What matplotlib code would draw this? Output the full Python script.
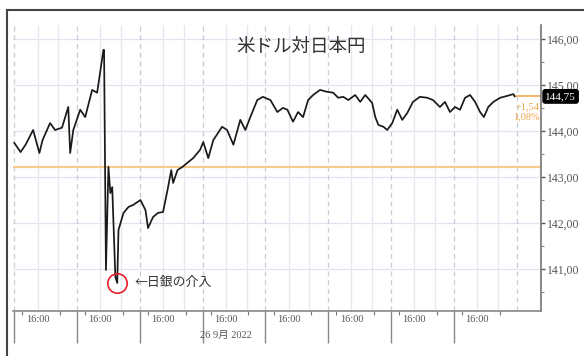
import matplotlib
matplotlib.use("Agg")
import matplotlib.pyplot as plt
from matplotlib.lines import Line2D
from matplotlib.ticker import FixedLocator, NullFormatter
import matplotlib.transforms as mtransforms

plt.rcParams['font.family'] = ['Noto Sans CJK JP', 'DejaVu Sans']

# trading-day offsets (day 0 = first session shown) and USD/JPY level
days = [0.00, 0.10, 0.18, 0.30, 0.40, 0.45, 0.57, 0.65, 0.76, 0.86, 0.89, 0.94,
        1.05, 1.13, 1.24, 1.32, 1.35, 1.42, 1.43, 1.46, 1.50, 1.53, 1.56, 1.61,
        1.64, 1.66, 1.74, 1.82, 1.89, 2.01, 2.09, 2.13, 2.21, 2.29, 2.37, 2.45,
        2.50, 2.53, 2.60, 2.68, 2.75, 2.85, 2.96, 3.01, 3.09, 3.17, 3.31, 3.39,
        3.49, 3.60, 3.68, 3.76, 3.87, 3.96, 4.08, 4.19, 4.28, 4.35, 4.44, 4.52,
        4.60, 4.68, 4.76, 4.87, 4.98, 5.08, 5.16, 5.24, 5.32, 5.43, 5.51, 5.59,
        5.70, 5.75, 5.80, 5.88, 5.94, 6.02, 6.10, 6.18, 6.26, 6.35, 6.46, 6.58,
        6.67, 6.78, 6.86, 6.94, 7.02, 7.10, 7.18, 7.26, 7.34, 7.42, 7.48, 7.55,
        7.63, 7.74, 7.85, 7.95, 7.97]
usdjpy = [143.74, 143.54, 143.70, 144.02, 143.52, 143.80, 144.17, 144.02, 144.07, 144.52, 143.52, 144.02,
          144.46, 144.30, 144.89, 144.83, 145.11, 145.76, 145.76, 140.98, 143.22, 142.65, 142.78, 140.83,
          140.70, 141.85, 142.22, 142.35, 142.39, 142.50, 142.28, 141.89, 142.13, 142.22, 142.24, 142.78,
          143.15, 142.87, 143.15, 143.22, 143.30, 143.41, 143.59, 143.76, 143.41, 143.80, 144.09, 144.02,
          143.70, 144.24, 144.02, 144.30, 144.67, 144.74, 144.67, 144.41, 144.50, 144.46, 144.20, 144.41,
          144.30, 144.67, 144.78, 144.89, 144.85, 144.83, 144.72, 144.74, 144.67, 144.78, 144.63, 144.78,
          144.61, 144.30, 144.13, 144.09, 144.02, 144.17, 144.46, 144.24, 144.39, 144.63, 144.74, 144.72,
          144.67, 144.52, 144.63, 144.41, 144.52, 144.46, 144.72, 144.78, 144.63, 144.41, 144.30, 144.52,
          144.63, 144.72, 144.76, 144.80, 144.75]

ref_level = 143.22          # orange reference line
last_price = "144,75"
change_abs = "+1,54"
change_pct = "1,08%"
y_ticks = [141, 142, 143, 144, 145, 146]
n_days = 8
label_offset = 0.37         # position of the "16:00" label inside each session
intervention = (1.64, 140.70)

serif = ['Liberation Serif', 'DejaVu Serif']

fig = plt.figure(figsize=(5.84, 3.56), dpi=100)
ax = fig.add_axes([0.0223, 0.1264, 0.9041, 0.8034])
ax.set_xlim(-0.02, 8.39)
ax.set_ylim(140.09, 146.30)

# grid
for y in y_ticks:
    ax.axhline(y, color='#dfe4ee', lw=0.9, zorder=0)
for k in range(n_days + 1):
    ax.axvline(k, color='#c9ccd6', lw=0.9, ls=(0, (4, 3)), zorder=0)
    for off in (label_offset, 0.70):
        if k + off < 8.39:
            ax.axvline(k + off, color='#e3e7ef', lw=0.9, zorder=0)

ax.axhline(ref_level, color='#f8c98c', lw=1.6, zorder=1)
ax.plot(days, usdjpy, color='#1a1a1a', lw=1.25, zorder=3)
ax.plot([days[-1], 8.39], [144.75, 144.75], color='#f2b060', lw=1.3, zorder=2)

# red circle and note
ax.plot([intervention[0]], [intervention[1]], 'o', ms=14, mfc='none', mec='#e8202a', mew=1.2,
        zorder=4, clip_on=False)
ax.text(1.92, intervention[1], '←日銀の介入', fontsize=9.3, color='#333333', va='center', ha='left')

ax.text(4.57, 145.83, '米ドル対日本円', fontsize=13.3, color='#333333', ha='center', va='center')

# spines
for s in ('top', 'left'):
    ax.spines[s].set_visible(False)
ax.spines['right'].set_color('#777777')
ax.spines['bottom'].set_color('#888888')
ax.spines['right'].set_linewidth(1.2)
ax.spines['bottom'].set_linewidth(1.2)

# y axis on right
ax.yaxis.tick_right()
ax.set_yticks(y_ticks)
ax.set_yticklabels([f"{v:.2f}".replace('.', ',') for v in y_ticks], family=serif)
ax.yaxis.set_minor_locator(FixedLocator([v + 0.5 for v in range(140, 146)]))
ax.tick_params(axis='y', which='major', length=3, width=1, color='#555555', pad=1,
               labelsize=8.5, labelcolor='#555555')
ax.tick_params(axis='y', which='minor', length=2, width=0.8, color='#888888')

# x axis: long session separators, 16:00 labels
ax.set_xticks(range(n_days))
ax.xaxis.set_major_formatter(NullFormatter())
ax.tick_params(axis='x', which='major', length=23, width=1.0, color='#888888')
ax.set_xticks([k + label_offset for k in range(n_days)], minor=True)
ax.set_xticklabels(['16:00'] * n_days, minor=True, family=serif)
ax.tick_params(axis='x', which='minor', length=0, pad=3, labelsize=7.5, labelcolor='#555555')

sec = ax.secondary_xaxis('bottom')
sec.set_xticks([k + off for k in range(n_days) for off in (0.13, 0.73)])
sec.xaxis.set_major_formatter(NullFormatter())
sec.tick_params(length=3, width=0.8, color='#777777')
sec.spines['bottom'].set_visible(False)

trans = mtransforms.blended_transform_factory(ax.transData, ax.transAxes)
ax.text(3 + label_offset, -0.07, '26 9月 2022', transform=trans, fontsize=7.5, color='#555555',
        ha='center', va='top', family=['Liberation Serif', 'Noto Sans CJK JP'])

# last price box and change text
ptrans = mtransforms.blended_transform_factory(ax.transAxes, ax.transData)
ax.text(1.008, 144.75, last_price, transform=ptrans, fontsize=8, color='white', ha='left',
        va='center', family=serif,
        bbox=dict(boxstyle='round,pad=0.2', fc='black', ec='black'))
ax.text(0.998, 144.52, change_abs, transform=ptrans, fontsize=7.5, color='#f2a445', ha='right',
        va='center', family=serif, clip_on=False)
ax.text(0.998, 144.30, change_pct, transform=ptrans, fontsize=7.5, color='#f2a445', ha='right',
        va='center', family=serif, clip_on=False)

# outer frame of the screenshot
fig.add_artist(Line2D([7 / 584, 7 / 584], [0, 1 - 10 / 356], color='#444444', lw=1.5))
fig.add_artist(Line2D([7 / 584, 1], [1 - 10 / 356, 1 - 10 / 356], color='#444444', lw=1.5))

fig.savefig('out.png', dpi=100)
